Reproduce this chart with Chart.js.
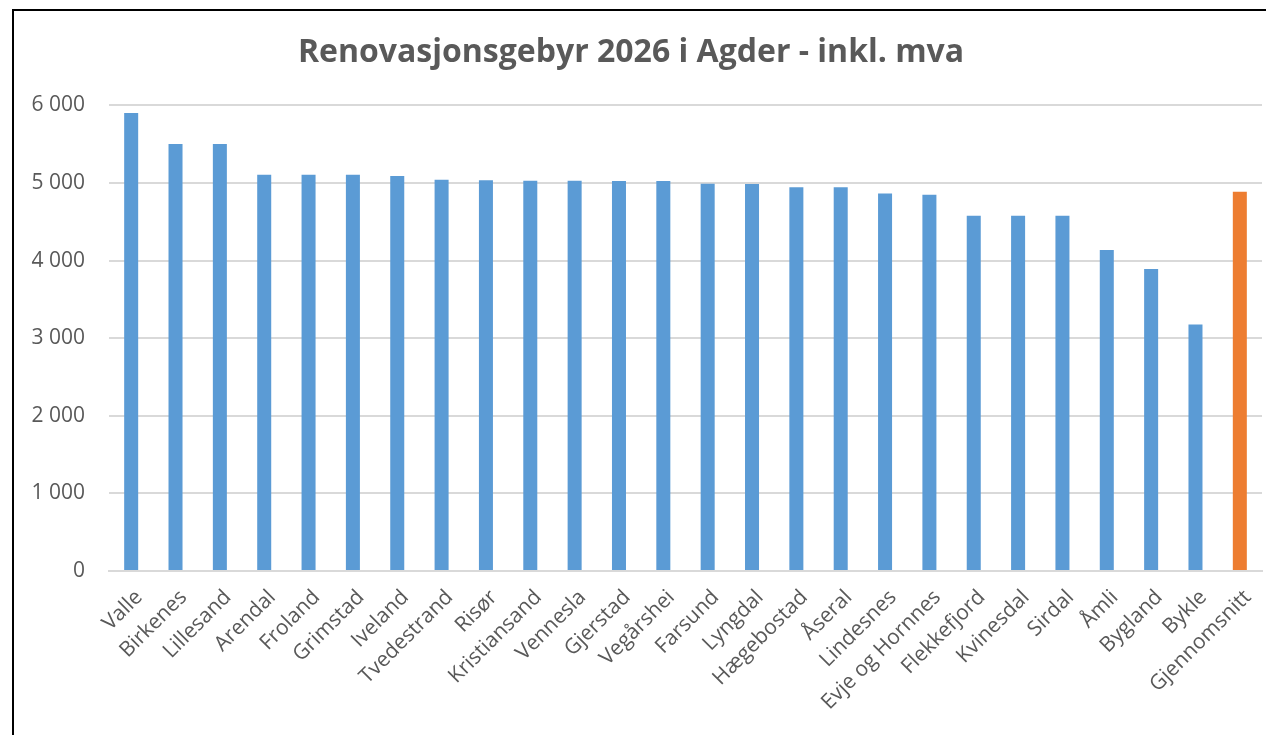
<!DOCTYPE html>
<html>
<head>
<meta charset="utf-8">
<script src="https://cdn.jsdelivr.net/npm/chart.js@4"></script>
<style>
    html, body { margin: 0; padding: 0; background: #fff; }
    #wrap { position: relative; width: 1266px; height: 735px; overflow: hidden; }
    #frame { position: absolute; left: 12px; top: 9px; width: 1300px; height: 800px;
             border-left: 2px solid #000; border-top: 2px solid #000; }
    #myChart { position: absolute; left: 0; top: 0; }
</style>
</head>
<body>
<div id="wrap">
    <div id="frame"></div>
    <canvas id="myChart" width="1266" height="735"></canvas>
</div>
<script>
const kommuner = ['Valle', 'Birkenes', 'Lillesand', 'Arendal', 'Froland', 'Grimstad', 'Iveland',
    'Tvedestrand', 'Risør', 'Kristiansand', 'Vennesla', 'Gjerstad', 'Vegårshei', 'Farsund',
    'Lyngdal', 'Hægebostad', 'Åseral', 'Lindesnes', 'Evje og Hornnes', 'Flekkefjord',
    'Kvinesdal', 'Sirdal', 'Åmli', 'Bygland', 'Bykle', 'Gjennomsnitt'];

// gebyr inkl. mva, lest av figuren
const gebyr = [5902, 5503, 5503, 5107, 5107, 5107, 5090,
    5043, 5034, 5030, 5030, 5026, 5026, 4991,
    4987, 4944, 4944, 4864, 4849, 4579,
    4579, 4579, 4138, 3893, 3176, 4888];

const yTicks = [0, 1000, 2000, 3000, 4000, 5000, 6000];

const title = 'Renovasjonsgebyr 2026 i Agder - inkl. mva';

const blue = '#5B9BD5';
const orange = '#ED7D31';
const textColor = '#595959';
const gridColor = '#D9D9D9';

// siste stolpe (gjennomsnitt) i oransje
const colors = kommuner.map(function (k) {
    return k === 'Gjennomsnitt' ? orange : blue;
});

function formatNumber(v) {
    return String(v).replace(/\B(?=(\d{3})+(?!\d))/g, ' ');
}

Chart.defaults.font.family = '"Open Sans", sans-serif';
Chart.defaults.color = textColor;

const config = {
    type: 'bar',
    data: {
        labels: kommuner,
        datasets: [{
            data: gebyr,
            backgroundColor: colors,
            barPercentage: 0.316,
            categoryPercentage: 1.0
        }]
    },
    options: {
        responsive: false,
        animation: false,
        layout: { padding: { left: 0, right: 4, top: 0, bottom: 0 } },
        plugins: {
            legend: { display: false },
            tooltip: { enabled: false },
            title: {
                display: true,
                text: title,
                color: textColor,
                font: { size: 32, weight: 'bold' },
                padding: { top: 34, bottom: 33 }
            }
        },
        scales: {
            x: {
                grid: { display: false },
                border: { display: true, color: gridColor, width: 2 },
                ticks: {
                    autoSkip: false,
                    minRotation: 45,
                    maxRotation: 45,
                    padding: 6,
                    labelOffset: 8,
                    font: { size: 21 },
                    color: textColor
                },
                afterFit: function (scale) { scale.height = 164; }
            },
            y: {
                min: 0,
                max: 6000,
                afterBuildTicks: function (scale) {
                    scale.ticks = yTicks.map(function (v) { return { value: v }; });
                },
                grid: { color: gridColor, lineWidth: 2, drawTicks: false },
                border: { display: false },
                ticks: {
                    padding: 24,
                    font: { size: 21 },
                    color: textColor,
                    callback: function (v) { return formatNumber(v); }
                },
                afterFit: function (scale) { scale.width = 109; }
            }
        }
    }
};

window.onload = function () {
    new Chart(document.getElementById('myChart'), config);
};
</script>
</body>
</html>
